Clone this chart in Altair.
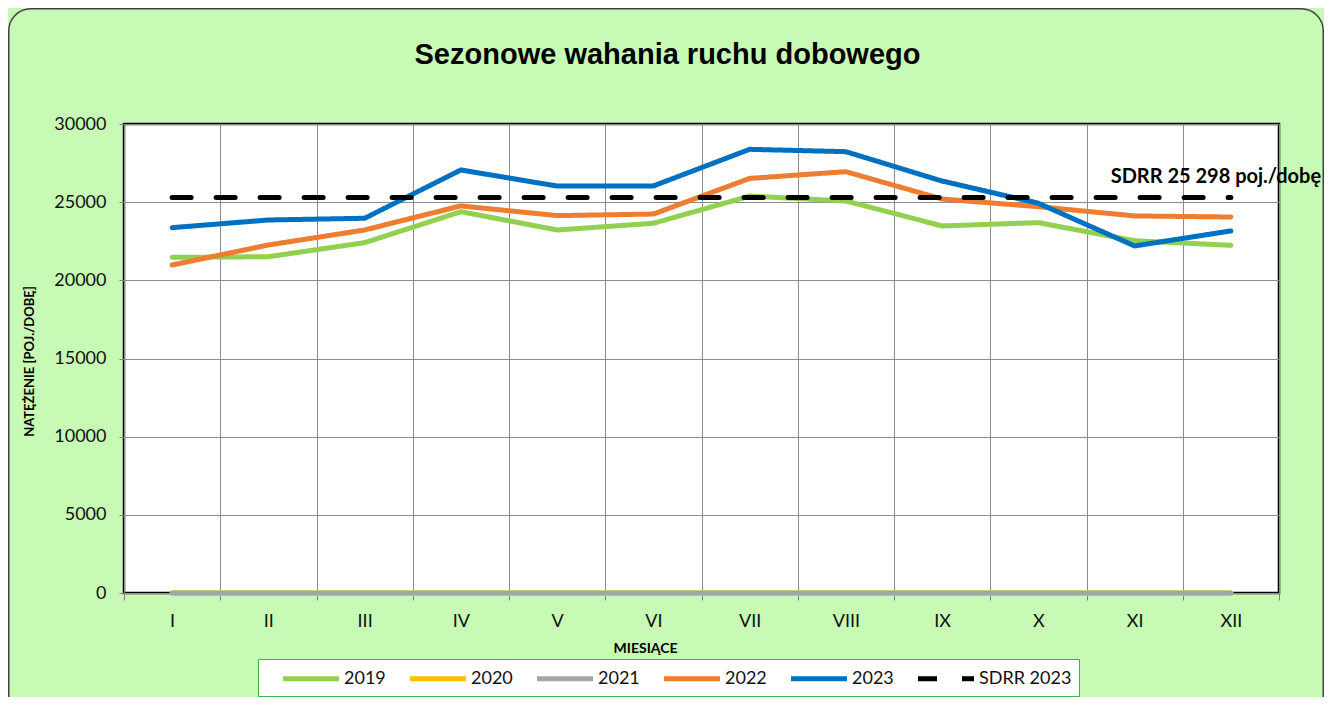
import altair as alt
import pandas as pd

months = ["I", "II", "III", "IV", "V", "VI", "VII", "VIII", "IX", "X", "XI", "XII"]
v2019 = [21470, 21510, 22410, 24390, 23220, 23650, 25390, 25070, 23480, 23690, 22530, 22240]
v2020 = [0, 0, 0, 0, 0, 0, 0, 0, 0, 0, 0, 0]
v2021 = [0, 0, 0, 0, 0, 0, 0, 0, 0, 0, 0, 0]
v2022 = [20980, 22260, 23220, 24760, 24140, 24240, 26520, 26950, 25200, 24710, 24120, 24050]
v2023 = [23370, 23860, 23970, 27060, 26030, 26040, 28380, 28230, 26350, 24930, 22200, 23160]
sdrr_value = 25298
sdrr_line = [25298, 25298, 25298, 25298, 25298, 25298, 25298, 25298, 25298, 25298, 25298, 25298]

series_names = ["2019", "2020", "2021", "2022", "2023", "SDRR 2023"]
series_colors = ["#92D050", "#FFC000", "#A5A5A5", "#ED7D31", "#0070C0", "#000000"]
series_dash = [[1, 0], [1, 0], [1, 0], [1, 0], [1, 0], [19, 25]]
y_ticks = [0, 5000, 10000, 15000, 20000, 25000, 30000]

rows = []
for name, vals in zip(series_names, [v2019, v2020, v2021, v2022, v2023, sdrr_line]):
    for m, v in zip(months, vals):
        rows.append({"month": m, "value": v, "series": name})
df = pd.DataFrame(rows)

label_txt = "SDRR " + f"{sdrr_value:,}".replace(",", " ") + " poj./dobę"
df_label = pd.DataFrame([{"month": "XII", "value": sdrr_value, "label": label_txt}])

FONT = "Lato"

x_enc = alt.X(
    "month:N",
    sort=months,
    bandPosition=0.5,
    scale=alt.Scale(type="band", paddingInner=0, paddingOuter=0),
    axis=alt.Axis(
        title="MIESIĄCE",
        titleFont=FONT, titleFontSize=14, titleFontWeight="bold", titleColor="black",
        titleX=521, titleY=55, titleBaseline="middle", titleAlign="center",
        labelAngle=0, labelFont=FONT, labelFontSize=18, labelColor="#111111",
        labelPadding=12,
        tickBand="extent", ticks=True, tickSize=7, tickColor="#808080",
        grid=True, gridColor="#8c8c8c", gridWidth=1,
        domain=False,
    ),
)
y_enc = alt.Y(
    "value:Q",
    scale=alt.Scale(domain=[0, 30000], nice=False),
    axis=alt.Axis(
        title="NATĘŻENIE [POJ./DOBĘ]",
        titleFont=FONT, titleFontSize=13, titleFontWeight="bold", titleColor="black",
        titleX=-95, titleY=237, titleBaseline="middle", titleAlign="center",
        values=y_ticks, format="d",
        labelFont=FONT, labelFontSize=18, labelColor="#111111", labelPadding=13,
        ticks=True, tickSize=5, tickColor="#808080",
        grid=True, gridColor="#8c8c8c", gridWidth=1,
        domain=False,
    ),
)

lines = alt.Chart(df).mark_line(strokeWidth=5, strokeCap="round", clip=False).encode(
    x=x_enc,
    y=y_enc,
    color=alt.Color(
        "series:N",
        scale=alt.Scale(domain=series_names, range=series_colors),
        legend=alt.Legend(
            title=None, orient="none", legendX=134, legendY=535,
            direction="horizontal", columns=6,
            symbolType="M-1,0H4.6", symbolSize=400, symbolStrokeWidth=5,
            symbolOffset=15.5, labelOffset=38.5, columnPadding=6,
            labelFont=FONT, labelFontSize=18, labelColor="#111111",
            fillColor="white", strokeColor="#3BB54A", padding=7,
        ),
    ),
    strokeDash=alt.StrokeDash(
        "series:N",
        scale=alt.Scale(domain=series_names, range=series_dash),
        legend=alt.Legend(title=None),
    ),
    order=alt.Order("series:N"),
)

label = alt.Chart(df_label).mark_text(
    font=FONT, fontSize=20, fontWeight="bold", color="black",
    align="center", baseline="middle", dx=-15, dy=-21,
).encode(
    x=alt.X("month:N", sort=months, bandPosition=0.5),
    y=alt.Y("value:Q"),
    text="label:N",
)

frame = alt.Chart(pd.DataFrame({"k": [0]})).mark_rect(
    filled=False, stroke="#404040", strokeWidth=1.5, cornerRadius=22, clip=False
).encode(
    x=alt.value(-115.25), x2=alt.value(1199.25),
    y=alt.value(-115.25), y2=alt.value(620),
)

chart = (
    alt.layer(lines, label, frame)
    .properties(
        width=1155,
        height=469,
        autosize=alt.AutoSizeParams(type="none"),
        padding={"left": 116, "top": 116, "right": 45, "bottom": 104},
        background="#C7FAB5",
        title=alt.Title(
            "Sezonowe wahania ruchu dobowego",
            font="Liberation Sans", fontSize=29, fontWeight="bold", color="black",
            anchor="middle", frame="group", dx=-34, offset=-61.75,
        ),
    )
    .configure_view(fill="white", stroke="black", strokeWidth=2.5)
)

chart.save("out.html", embed_options={"renderer": "svg", "actions": False})
